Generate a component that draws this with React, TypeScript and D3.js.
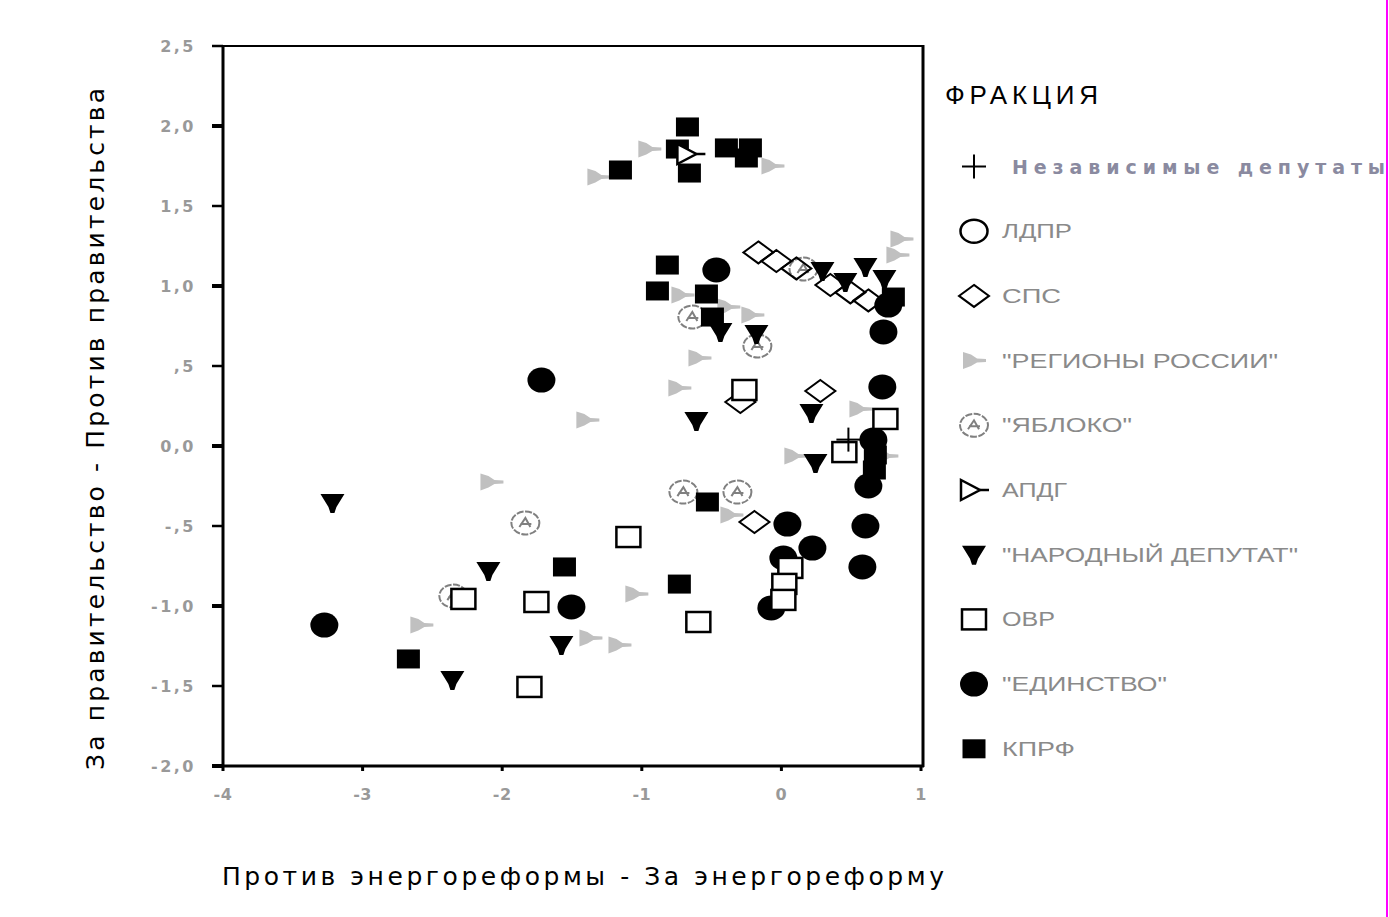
import React from 'react';
import * as d3 from 'd3';

const W = 1389;
const H = 917;

const categories = [
  'Независимые депутаты',
  'ЛДПР',
  'СПС',
  '"РЕГИОНЫ РОССИИ"',
  '"ЯБЛОКО"',
  'АПДГ',
  '"НАРОДНЫЙ ДЕПУТАТ"',
  'ОВР',
  '"ЕДИНСТВО"',
  'КПРФ',
];

const yTicks = [-2, -1.5, -1, -0.5, 0, 0.5, 1, 1.5, 2, 2.5];
const yTickLabels = ['-2,0', '-1,5', '-1,0', '-,5', '0,0', ',5', '1,0', '1,5', '2,0', '2,5'];
const xTicks = [-4, -3, -2, -1, 0, 1];
const xTickLabels = ['-4', '-3', '-2', '-1', '0', '1'];

const independent: [number, number][] = [[0.48, 0.04]];
const ldpr: [number, number][] = [];
const sps: [number, number][] = [
  [-0.165, 1.21], [-0.036, 1.156], [0.107, 1.11], [0.351, 1.006], [0.494, 0.96], [0.623, 0.91],
  [-0.294, 0.275], [0.279, 0.344], [-0.193, -0.475],
];
const regiony: [number, number][] = [
  [-1.311, 1.681], [-0.946, 1.856], [-0.064, 1.75], [0.86, 1.294], [0.831, 1.194],
  [-0.709, 0.944], [-0.38, 0.869], [-0.208, 0.819], [-0.587, 0.55], [-0.731, 0.362],
  [-1.39, 0.162], [0.566, 0.231], [0.1, -0.062], [-2.077, -0.225], [-0.358, -0.431],
  [-1.039, -0.925], [-2.579, -1.119], [-1.368, -1.2], [-1.16, -1.244], [0.752, -0.062],
];
const yabloko: [number, number][] = [
  [0.158, 1.106], [-0.638, 0.806], [-0.172, 0.625], [-0.702, -0.288], [-0.315, -0.288],
  [-1.834, -0.481], [-2.35, -0.938],
];
const apdg: [number, number][] = [[-0.652, 1.825]];
const narodny: [number, number][] = [
  [0.294, 1.094], [0.458, 1.025], [0.602, 1.119], [0.738, 1.044], [-0.437, 0.712],
  [-0.179, 0.7], [0.215, 0.206], [-0.609, 0.156], [0.244, -0.106], [-3.216, -0.356],
  [-2.099, -0.781], [-1.576, -1.244], [-2.357, -1.462],
];
const ovr: [number, number][] = [
  [-0.265, 0.35], [0.745, 0.169], [0.451, -0.038], [-1.096, -0.569], [-2.278, -0.956],
  [-1.755, -0.975], [-0.595, -1.1], [-1.805, -1.506], [0.064, -0.762], [0.021, -0.862],
  [0.014, -0.962],
];
const edinstvo: [number, number][] = [
  [-0.466, 1.1], [0.766, 0.881], [0.731, 0.713], [0.723, 0.369], [0.659, 0.038],
  [0.623, -0.25], [0.602, -0.5], [0.58, -0.756], [0.043, -0.488], [0.222, -0.638],
  [0.014, -0.7], [-0.072, -1.012], [-1.719, 0.412], [-1.504, -1.006], [-3.274, -1.119],
];
const kprf: [number, number][] = [
  [-1.153, 1.725], [-0.673, 1.994], [-0.745, 1.856], [-0.659, 1.706], [-0.394, 1.863],
  [-0.222, 1.863], [-0.251, 1.8], [-0.817, 1.131], [-0.888, 0.969], [-0.537, 0.95],
  [-0.494, 0.806], [0.802, 0.931], [0.673, -0.056], [0.666, -0.15], [-0.53, -0.35],
  [-1.554, -0.756], [-0.731, -0.863], [-2.672, -1.331],
];

const legendWidths = [373, 70, 59, 276, 130, 65, 296, 53, 165, 73];
const kinds = ['plus', 'circleOpen', 'diamond', 'triRight', 'yabloko', 'apdg', 'triDown', 'squareOpen', 'circleFilled', 'squareFilled'];

function Marker({ kind, cx, cy }: { kind: string; cx: number; cy: number }) {
  switch (kind) {
    case 'plus':
      return (
        <g stroke="#000" strokeWidth={2}>
          <line x1={cx - 12} x2={cx + 12} y1={cy} y2={cy} />
          <line x1={cx} x2={cx} y1={cy - 12} y2={cy + 12} />
        </g>
      );
    case 'circleOpen':
      return <ellipse cx={cx} cy={cy} rx={13.5} ry={11.5} fill="#fff" stroke="#000" strokeWidth={2.5} />;
    case 'diamond':
      return (
        <path d={`M${cx},${cy - 11} L${cx + 15},${cy} L${cx},${cy + 11} L${cx - 15},${cy} Z`} fill="none" stroke="#000" strokeWidth={2} />
      );
    case 'triRight':
      return (
        <path
          d={`M${cx - 11},${cy - 8.5} L${cx - 3},${cy - 6} L${cx + 3},${cy - 2} L${cx + 12},${cy - 1.5} L${cx + 12},${cy + 1.5} L${cx + 3},${cy + 2} L${cx - 3},${cy + 5.5} L${cx - 11},${cy + 8.5} Z`}
          fill="#c0c0c0"
        />
      );
    case 'yabloko':
      return (
        <g stroke="#808080" strokeWidth={2} fill="none">
          <ellipse cx={cx} cy={cy} rx={14} ry={11.5} strokeDasharray="7 1.5" />
          <path d={`M${cx - 6},${cy + 4} L${cx},${cy - 5} L${cx + 5},${cy + 4} M${cx - 5},${cy + 1} L${cx + 6},${cy + 1}`} />
        </g>
      );
    case 'apdg':
      return (
        <g stroke="#000" strokeWidth={2.5}>
          <path d={`M${cx - 13},${cy - 10} L${cx - 13},${cy + 10} L${cx + 6},${cy} Z`} fill="#fff" />
          <line x1={cx + 6} x2={cx + 15} y1={cy} y2={cy} />
        </g>
      );
    case 'triDown':
      return <path d={`M${cx - 12},${cy - 9} L${cx + 12},${cy - 9} L${cx + 4},${cy + 4} L${cx + 2},${cy + 10} L${cx - 2},${cy + 10} L${cx - 4},${cy + 4} Z`} fill="#000" />;
    case 'squareOpen':
      return <rect x={cx - 12} y={cy - 10} width={24} height={20} fill="#fff" stroke="#000" strokeWidth={2.5} />;
    case 'circleFilled':
      return <ellipse cx={cx} cy={cy} rx={14} ry={12.5} fill="#000" />;
    case 'squareFilled':
      return <rect x={cx - 11.5} y={cy - 9.5} width={23} height={19} fill="#000" />;
    default:
      return null;
  }
}

export default function App() {
  const x = d3.scaleLinear().domain([-4, 1]).range([223, 921]);
  const y = d3.scaleLinear().domain([-2, 2.5]).range([766, 46]);

  const layers: { kind: string; data: [number, number][] }[] = [
    { kind: 'triRight', data: regiony },
    { kind: 'yabloko', data: yabloko },
    { kind: 'circleOpen', data: ldpr },
    { kind: 'diamond', data: sps },
    { kind: 'triDown', data: narodny },
    { kind: 'circleFilled', data: edinstvo },
    { kind: 'squareFilled', data: kprf },
    { kind: 'squareOpen', data: ovr },
    { kind: 'apdg', data: apdg },
    { kind: 'plus', data: independent },
  ];

  const legendY = (i: number) => 166.5 + i * 64.7;

  return (
    <svg width={W} height={H} style={{ position: 'absolute', left: 0, top: 0, background: '#fff' }} fontFamily="Liberation Sans, Arial, sans-serif">
      <rect x={0} y={0} width={W} height={H} fill="#fff" />

      {layers.map((l, li) => (
        <g key={li}>
          {l.data.map((d, i) => (
            <Marker key={i} kind={l.kind} cx={x(d[0])} cy={y(d[1])} />
          ))}
        </g>
      ))}

      <line x1={223} x2={923} y1={46} y2={46} stroke="#000" strokeWidth={2} />
      <line x1={923} x2={923} y1={45} y2={767} stroke="#000" strokeWidth={3} />
      <line x1={223} x2={223} y1={45} y2={767} stroke="#000" strokeWidth={3} />
      <line x1={222} x2={924} y1={766} y2={766} stroke="#000" strokeWidth={3} />

      {yTicks.map((t, i) => (
        <g key={i}>
          <line x1={212} x2={223} y1={y(t)} y2={y(t)} stroke="#000" strokeWidth={Number.isInteger(t) ? 4 : 2.5} />
          <text x={196} y={y(t) + 6} textAnchor="end" fontFamily="DejaVu Sans, sans-serif" fontSize={16} fontWeight="bold" letterSpacing={2.5} fill="#999">
            {yTickLabels[i]}
          </text>
        </g>
      ))}

      {xTicks.map((t, i) => (
        <g key={i}>
          <rect x={x(t) - 1.5} y={766} width={3} height={5} fill="#000" />
          <text x={x(t)} y={800} textAnchor="middle" fontFamily="DejaVu Sans, sans-serif" fontSize={16} fontWeight="bold" letterSpacing={0.5} fill="#999">
            {xTickLabels[i]}
          </text>
        </g>
      ))}

      <text x={222} y={885} fontFamily="DejaVu Sans, sans-serif" fontSize={25} textLength={722} lengthAdjust="spacing" fill="#000">
        Против энергореформы - За энергореформу
      </text>
      <text transform="translate(104,429) rotate(-90)" textAnchor="middle" fontFamily="DejaVu Sans, sans-serif" fontSize={25} textLength={682} lengthAdjust="spacing" fill="#000">
        За правительство - Против правительства
      </text>

      <text x={945} y={104} fontSize={26} textLength={153} lengthAdjust="spacing" fill="#000">
        ФРАКЦИЯ
      </text>
      {categories.map((c, i) => (
        <g key={i}>
          <Marker kind={kinds[i]} cx={974} cy={legendY(i)} />
          <text
            x={i === 0 ? 1012 : 1002}
            y={legendY(i) + 7}
            fontFamily={i === 0 ? 'DejaVu Sans, sans-serif' : undefined}
            fontWeight={i === 0 ? 'bold' : undefined}
            fontSize={i === 0 ? 19 : 20}
            textLength={legendWidths[i]}
            lengthAdjust={i === 0 ? 'spacing' : 'spacingAndGlyphs'}
            fill={i === 0 ? '#8a8aa0' : '#8a8a8a'}
          >
            {c}
          </text>
        </g>
      ))}

      <rect x={1386} y={0} width={2} height={H} fill="#f0f" />
    </svg>
  );
}
